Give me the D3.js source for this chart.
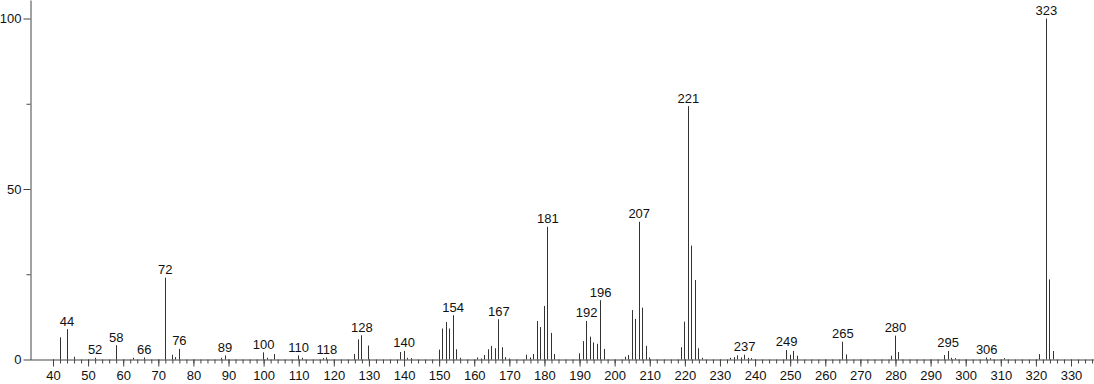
<!DOCTYPE html>
<html>
<head>
<meta charset="utf-8">
<script src="https://cdn.jsdelivr.net/npm/d3@7"></script>
<style>
  body { margin: 0; background: #fff; }
  svg { display: block; }
  text { font-family: "Liberation Sans", Arial, sans-serif; font-size: 13px; fill: #111; }
</style>
</head>
<body>
<svg width="1094" height="384"></svg>
<script>
// peak list: m/z and relative intensity
var mz = [42, 44, 46, 52, 58, 63, 66, 72, 74, 75, 76, 88, 89, 100, 101, 103,
          110, 111, 117, 118, 126, 127, 128, 130, 139, 140, 141, 142,
          150, 151, 152, 153, 154, 155, 156, 161, 162, 163, 164, 165, 166, 167, 168, 169, 170,
          175, 176, 177, 178, 179, 180, 181, 182, 183,
          190, 191, 192, 193, 194, 195, 196, 197,
          203, 204, 205, 206, 207, 208, 209, 210,
          219, 220, 221, 222, 223, 224, 225,
          233, 234, 235, 236, 237, 238, 239,
          249, 250, 251, 252, 265, 266, 279, 280, 281,
          294, 295, 296, 297, 306, 307, 311, 321, 323, 324, 325];
var intensity = [6.5, 8.9, 0.8, 0.5, 4.2, 0.5, 0.6, 24.0, 1.4, 0.7, 3.1, 0.5, 1.2, 2.1, 0.5, 1.6,
                 1.2, 0.5, 0.4, 0.6, 1.6, 5.9, 7.1, 4.1, 2.2, 2.5, 0.5, 0.4,
                 2.9, 9.1, 11.0, 9.1, 13.0, 3.0, 0.5, 0.6, 0.3, 1.3, 3.0, 4.0, 3.3, 11.8, 3.6, 0.7, 0.3,
                 1.4, 0.6, 1.6, 11.3, 9.5, 15.7, 38.9, 7.8, 1.6,
                 1.8, 5.4, 11.3, 6.7, 5.0, 4.6, 17.4, 3.1,
                 0.8, 1.3, 14.5, 11.9, 40.4, 15.2, 4.0, 0.6,
                 3.6, 11.1, 74.3, 33.4, 23.3, 3.3, 0.5,
                 0.5, 0.7, 1.2, 0.6, 1.4, 0.5, 0.4,
                 2.8, 1.4, 2.5, 1.1, 5.2, 1.5, 1.1, 7.0, 2.2,
                 1.3, 2.5, 0.5, 0.4, 0.6, 0.4, 0.4, 1.6, 100, 23.5, 2.5];
var labelled = [44, 52, 58, 66, 72, 76, 89, 100, 110, 118, 128, 140, 154, 167,
                181, 192, 196, 207, 221, 237, 249, 265, 280, 295, 306, 323];
var xMajor = d3.range(40, 331, 10);
var xMinor = d3.range(40, 341, 2);
var yMajor = [0, 50, 100];
var yMinor = [25, 75];

var peaks = mz.map(function(m, i) { return {mz: m, v: intensity[i]}; });

var svg = d3.select('svg');
var x = d3.scaleLinear().domain([40, 330]).range([53, 1071]);
var y = d3.scaleLinear().domain([0, 100]).range([359.5, 18.5]);

// axis scales stretched to the edges of the picture
var xa = x.copy().domain([x.invert(30), x.invert(1094)]).range([30, 1094]);
var ya = y.copy().domain([0, y.invert(0)]).range([359.5, 0]);

function crisp(v) { return Math.round(v - 0.5) + 0.5; }

function style_axis(g) {
  g.select('.domain').attr('stroke', '#444');
  g.selectAll('.tick line').attr('stroke', '#444');
  g.selectAll('.tick text').attr('fill', '#111')
    .style('font-family', '"Liberation Sans", Arial, sans-serif').style('font-size', '13px');
  return g;
}

// x axis: minor then major
svg.append('g')
  .attr('transform', 'translate(0,' + crisp(y(0)) + ')')
  .call(d3.axisBottom(xa).tickValues(xMinor).tickSize(4).tickSizeOuter(0).tickFormat(''))
  .call(style_axis);
svg.append('g')
  .attr('transform', 'translate(0,' + crisp(y(0)) + ')')
  .call(d3.axisBottom(xa).tickValues(xMajor).tickSize(7).tickSizeOuter(0).tickPadding(4).tickFormat(d3.format('d')))
  .call(style_axis)
  .call(function(g) { g.select('.domain').remove(); });

// y axis
svg.append('g')
  .attr('transform', 'translate(30.5,0)')
  .call(d3.axisLeft(ya).tickValues(yMinor).tickSize(4).tickSizeOuter(0).tickFormat(''))
  .call(style_axis);
svg.append('g')
  .attr('transform', 'translate(30.5,0)')
  .call(d3.axisLeft(ya).tickValues(yMajor).tickSize(7).tickSizeOuter(0).tickPadding(2).tickFormat(d3.format('d')))
  .call(style_axis)
  .call(function(g) { g.select('.domain').remove(); });

// stick spectrum
svg.selectAll('line.peak')
  .data(peaks)
  .enter()
  .append('line')
  .classed('peak', true)
  .attr('x1', function(d) { return crisp(x(d.mz)); })
  .attr('x2', function(d) { return crisp(x(d.mz)); })
  .attr('y1', crisp(y(0)))
  .attr('y2', function(d) { return y(d.v); })
  .attr('stroke', '#333')
  .attr('stroke-width', 1);

svg.selectAll('text.lbl')
  .data(peaks.filter(function(d) { return labelled.indexOf(d.mz) >= 0; }))
  .enter()
  .append('text')
  .classed('lbl', true)
  .attr('text-anchor', 'middle')
  .attr('x', function(d) { return x(d.mz); })
  .attr('y', function(d) { return y(d.v) - 3.5; })
  .text(function(d) { return d.mz; });
</script>
</body>
</html>
